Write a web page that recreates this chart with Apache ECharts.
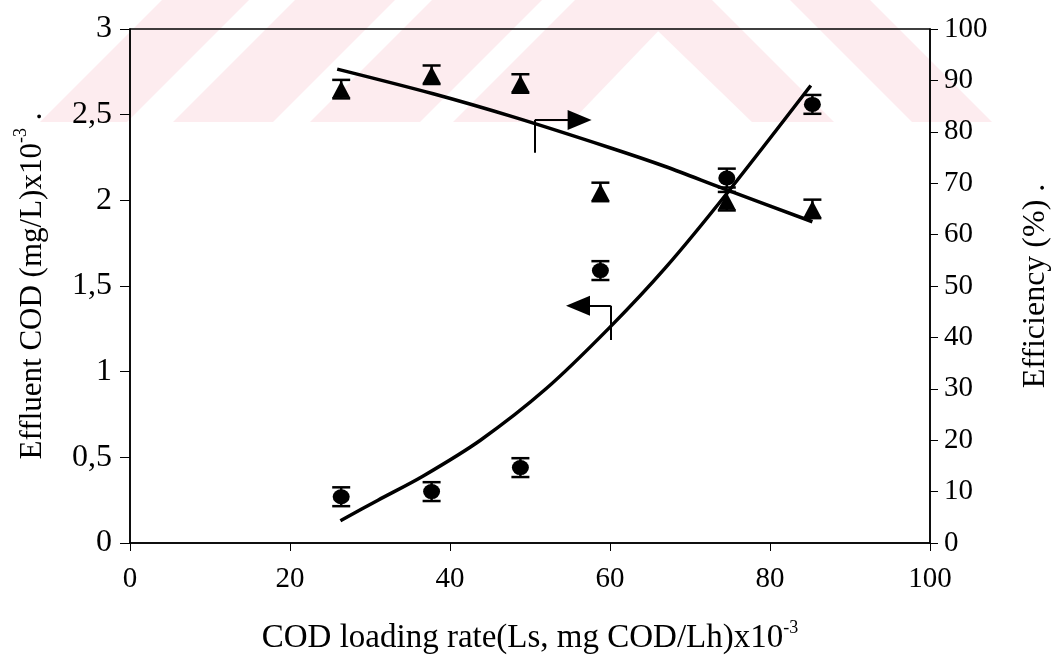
<!DOCTYPE html>
<html>
<head>
<meta charset="utf-8">
<script src="https://cdn.jsdelivr.net/npm/echarts@6/dist/echarts.min.js"></script>
<style>html,body{margin:0;padding:0;background:#fff;}#c{width:1057px;height:659px;}</style>
</head>
<body>
<div id="c"></div>
<script>
// ---- data ----
const loadingRate = [26.4, 37.7, 48.8, 58.8, 74.6, 85.3];          // x, COD loading rate x10^-3
const effluentCOD = [0.27, 0.30, 0.44, 1.59, 2.13, 2.56];          // left axis
const effluentErr = [0.055, 0.055, 0.055, 0.055, 0.055, 0.055];
const efficiency = [88.3, 91.1, 89.4, 68.3, 66.5, 65.0];            // right axis, %
const efficiencyErr = [1.8, 1.8, 1.8, 1.8, 1.8, 1.8];

const codFitX = [26.3, 31.0, 36.6, 43.8, 52.0, 60.0, 67.0, 74.6, 85.1];
const codFitY = [0.13, 0.25, 0.39, 0.60, 0.90, 1.26, 1.61, 2.04, 2.67];
const effFitX = [25.9, 37.9, 47.9, 60.0, 67.0, 74.1, 85.3];
const effFitY = [92.2, 87.4, 82.9, 76.9, 73.2, 69.0, 62.5];

// annotation arrows (data coordinates)
const rightArrow = {x: 50.6, yLow: 75.9, y: 82.3, xEnd: 56.2};
const leftArrow = {x: 60.1, yLow: 1.185, y: 1.384, xEnd: 56.0};

const xTicks = {min: 0, max: 100, interval: 20};
const leftTicks = {min: 0, max: 3, interval: 0.5};
const rightTicks = {min: 0, max: 100, interval: 10};

const FONT = '"Liberation Serif", "DejaVu Serif", serif';

const chart = echarts.init(document.getElementById('c'), null, {renderer: 'canvas'});

function errRender(params, api) {
  const x = api.value(0);
  const lo = api.coord([x, api.value(1)]);
  const hi = api.coord([x, api.value(2)]);
  const w = 9;
  const st = {stroke: '#000', lineWidth: 2.5};
  return {type: 'group', children: [
    {type: 'line', shape: {x1: lo[0], y1: lo[1], x2: hi[0], y2: hi[1]}, style: st},
    {type: 'line', shape: {x1: lo[0] - w, y1: lo[1], x2: lo[0] + w, y2: lo[1]}, style: st},
    {type: 'line', shape: {x1: hi[0] - w, y1: hi[1], x2: hi[0] + w, y2: hi[1]}, style: st}
  ]};
}

const pink = '#fdecef';
const wm = [
  [[40,122],[127,122],[249,0],[162,0]],
  [[173,122],[273,122],[395,0],[295,0]],
  [[310,122],[420,122],[542,0],[432,0]],
  [[453,122],[571,122],[688,0],[575,0]],
  [[626,0],[712,0],[834,122],[752,122]],
  [[790,0],[870,0],[992,122],[912,122]]
];

const option = {
  backgroundColor: '#fff',
  animation: false,
  textStyle: {fontFamily: FONT, color: '#000'},
  graphic: wm.map(p => ({type: 'polygon', z: -10, silent: true, shape: {points: p}, style: {fill: pink}})),
  grid: {left: 130, right: 127, top: 29, bottom: 116, outerBoundsMode: 'none', containLabel: false,
         show: true, borderColor: '#000', borderWidth: 1.5, backgroundColor: 'transparent'},
  xAxis: {
    type: 'value', min: xTicks.min, max: xTicks.max, interval: xTicks.interval,
    axisLine: {lineStyle: {color: '#000', width: 1.5}},
    axisTick: {show: true, inside: false, length: 8, lineStyle: {color: '#000', width: 1}},
    splitLine: {show: false},
    axisLabel: {color: '#000', fontFamily: FONT, fontSize: 29, margin: 22},
    name: '{m|COD loading rate(Ls, mg COD/Lh)x10}{s|-3}',
    nameLocation: 'middle', nameGap: 76,
    nameTextStyle: {rich: {
      m: {fontFamily: FONT, fontSize: 33, color: '#000', lineHeight: 36, verticalAlign: 'bottom'},
      s: {fontFamily: FONT, fontSize: 18, color: '#000', lineHeight: 36, verticalAlign: 'top'}
    }}
  },
  yAxis: [
    {
      type: 'value', min: leftTicks.min, max: leftTicks.max, interval: leftTicks.interval, position: 'left',
      axisLine: {show: true, lineStyle: {color: '#000', width: 1.5}},
      axisTick: {show: true, inside: false, length: 10, lineStyle: {color: '#000', width: 1}},
      splitLine: {show: false},
      axisLabel: {color: '#000', fontFamily: FONT, fontSize: 32, margin: 18, formatter: v => String(v).replace('.', ',')},
      name: '{m|Effluent COD (mg/L)x10}{s|-3}{m| .}',
      nameLocation: 'middle', nameGap: 82, nameRotate: 90,
      nameTextStyle: {rich: {
        m: {fontFamily: FONT, fontSize: 31, color: '#000', lineHeight: 36, verticalAlign: 'bottom'},
        s: {fontFamily: FONT, fontSize: 18, color: '#000', lineHeight: 36, verticalAlign: 'top'}
      }}
    },
    {
      type: 'value', min: rightTicks.min, max: rightTicks.max, interval: rightTicks.interval, position: 'right',
      axisLine: {show: true, lineStyle: {color: '#000', width: 1.5}},
      axisTick: {show: true, inside: false, length: 8, lineStyle: {color: '#000', width: 1}},
      splitLine: {show: false},
      axisLabel: {color: '#000', fontFamily: FONT, fontSize: 29, margin: 14},
      name: 'Efficiency (%) .',
      nameLocation: 'middle', nameGap: 90, nameRotate: 90,
      nameTextStyle: {fontFamily: FONT, fontSize: 32, color: '#000'}
    }
  ],
  series: [
    {
      name: 'COD fit', type: 'line', yAxisIndex: 0, smooth: 0.3, showSymbol: false, symbol: 'none',
      lineStyle: {color: '#000', width: 3.5}, silent: true, z: 3,
      data: codFitX.map((x, i) => [x, codFitY[i]]),
      markLine: {
        silent: true, symbol: ['none', 'none'], label: {show: false},
        lineStyle: {color: '#000', width: 2, type: 'solid'},
        data: [
          [{coord: [leftArrow.x, leftArrow.yLow]}, {coord: [leftArrow.x, leftArrow.y]}],
          [{coord: [leftArrow.x, leftArrow.y]}, {coord: [leftArrow.xEnd, leftArrow.y], symbol: 'triangle', symbolSize: [20, 24]}]
        ]
      }
    },
    {
      name: 'Efficiency fit', type: 'line', yAxisIndex: 1, smooth: 0.3, showSymbol: false, symbol: 'none',
      lineStyle: {color: '#000', width: 3.5}, silent: true, z: 3,
      data: effFitX.map((x, i) => [x, effFitY[i]]),
      markLine: {
        silent: true, symbol: ['none', 'none'], label: {show: false},
        lineStyle: {color: '#000', width: 2, type: 'solid'},
        data: [
          [{coord: [rightArrow.x, rightArrow.yLow]}, {coord: [rightArrow.x, rightArrow.y]}],
          [{coord: [rightArrow.x, rightArrow.y]}, {coord: [rightArrow.xEnd, rightArrow.y], symbol: 'triangle', symbolSize: [20, 24]}]
        ]
      }
    },
    {
      name: 'Effluent COD err', type: 'custom', yAxisIndex: 0, renderItem: errRender, silent: true, z: 4,
      encode: {x: 0, y: [1, 2]},
      data: loadingRate.map((x, i) => [x, effluentCOD[i] - effluentErr[i], effluentCOD[i] + effluentErr[i]])
    },
    {
      name: 'Efficiency err', type: 'custom', yAxisIndex: 1, renderItem: errRender, silent: true, z: 4,
      encode: {x: 0, y: [1, 2]},
      data: loadingRate.map((x, i) => [x, efficiency[i] - efficiencyErr[i], efficiency[i] + efficiencyErr[i]])
    },
    {
      name: 'Effluent COD', type: 'scatter', yAxisIndex: 0, symbol: 'circle', symbolSize: [17, 15],
      itemStyle: {color: '#000', opacity: 1}, z: 5,
      data: loadingRate.map((x, i) => [x, effluentCOD[i]])
    },
    {
      name: 'Efficiency', type: 'scatter', yAxisIndex: 1, symbol: 'triangle', symbolSize: [18, 17],
      itemStyle: {color: '#000', opacity: 1}, z: 5,
      data: loadingRate.map((x, i) => [x, efficiency[i]])
    }
  ]
};
chart.setOption(option);
</script>
</body>
</html>
